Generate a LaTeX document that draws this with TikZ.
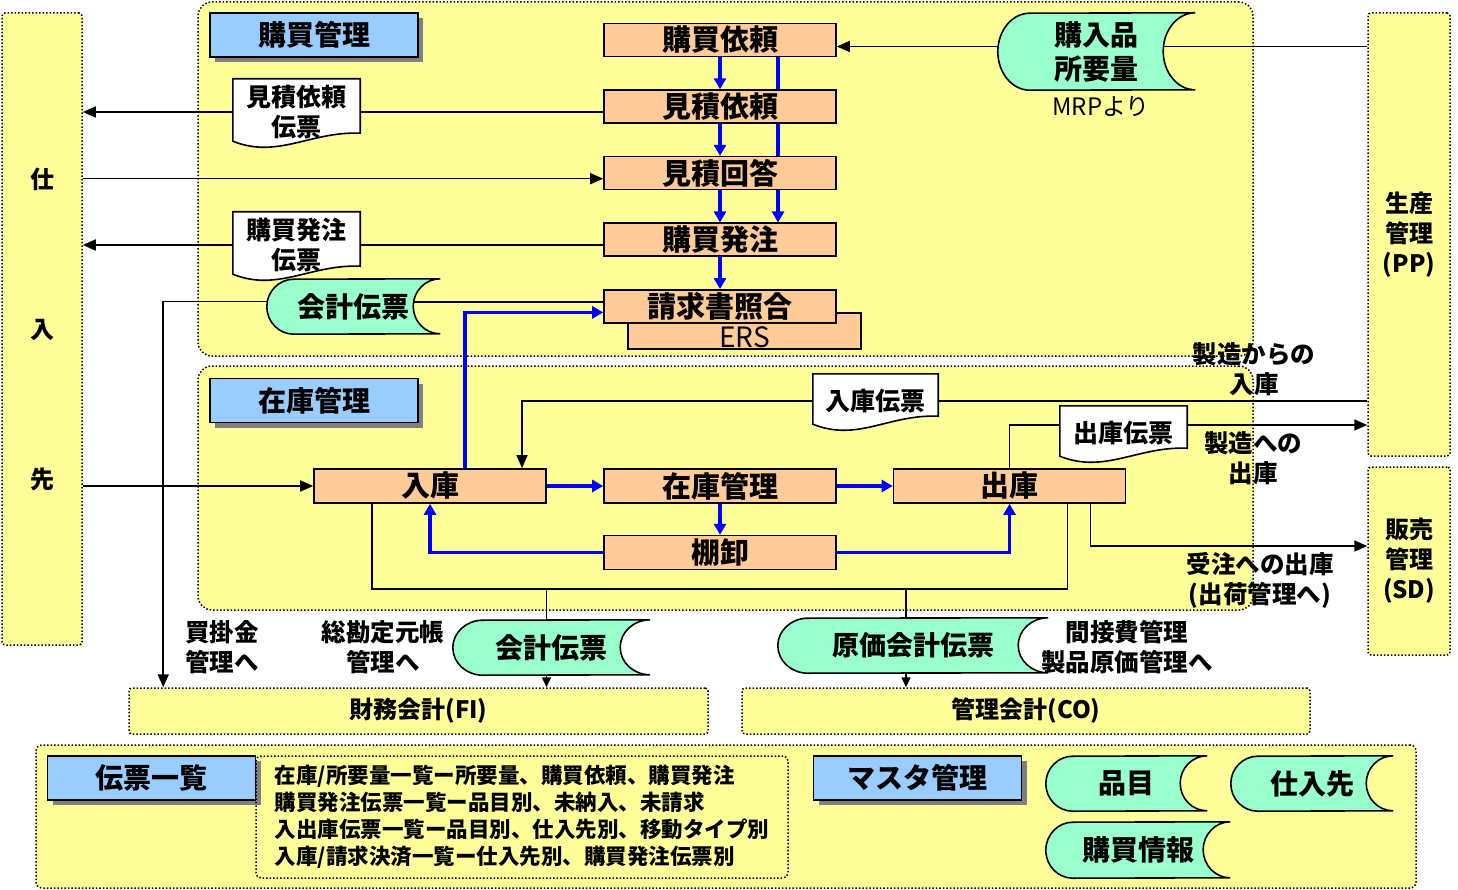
\documentclass[tikz,border=0pt]{standalone}
\usepackage{fontspec}
\setmainfont{Noto Sans CJK JP}
\usetikzlibrary{arrows.meta, positioning, shadows}

\definecolor{pale}{HTML}{FFFF99}
\definecolor{procfill}{HTML}{FFCC99}
\definecolor{headfill}{HTML}{99CCFF}
\definecolor{storefill}{HTML}{99FFCC}
\definecolor{flowblue}{HTML}{0000FF}

\pgfdeclarelayer{back}
\pgfdeclarelayer{shape}
\pgfsetlayers{back,shape,main}

% storage symbol round a named node: name, x radius, y radius
\newcommand{\storeshape}[3]{%
  \draw[storeline] (#1.north east) arc[start angle=90, end angle=270, x radius=#2, y radius=#3]
    -- ([xshift=#2]#1.south west) arc[start angle=270, end angle=90, x radius=#2, y radius=#3] -- cycle;}
% document symbol round a named node
\newcommand{\docshape}[1]{%
  \draw[docline] (#1.north west) -- (#1.north east) -- ([yshift=12pt]#1.south east)
    .. controls ([xshift=-50pt,yshift=14pt]#1.south east) and ([xshift=45pt,yshift=-14pt]#1.south west) .. ([yshift=4pt]#1.south west) -- cycle;}

\begin{document}
\begin{tikzpicture}[
  x=1pt, y=-1pt, font=\bfseries,
  region/.style={draw, dotted, line width=1.5pt, fill=pale, rounded corners=14pt, inner sep=0pt},
  side/.style={draw, dotted, line width=1.5pt, fill=pale, rounded corners=3pt, inner sep=0pt, align=center, font=\fontsize{24}{30}\selectfont\bfseries},
  proc/.style={draw, line width=1.6pt, fill=procfill, minimum width=232pt, minimum height=33pt, inner sep=0pt, font=\fontsize{29}{30}\selectfont\bfseries},
  head/.style={draw, line width=1.6pt, fill=headfill, minimum width=208pt, minimum height=44pt, inner sep=0pt,
    drop shadow={shadow xshift=5pt, shadow yshift=-5pt, fill=gray, opacity=1}, font=\fontsize{28}{30}\selectfont\bfseries},
  store/.style={minimum height=55pt, inner sep=0pt, align=center, font=\fontsize{28}{34}\selectfont\bfseries},
  storeline/.style={draw=black, line width=1.6pt, fill=storefill},
  doc/.style={minimum width=127pt, minimum height=66pt, inner sep=0pt, align=center, font=\fontsize{25}{30}\selectfont\bfseries},
  docline/.style={draw=black, line width=1.6pt, fill=white},
  note/.style={align=center, inner sep=0pt, font=\fontsize{24.5}{30}\selectfont\bfseries},
  conn/.style={line width=1.6pt},
  arr/.style={conn, -{Triangle[length=13pt, width=11pt]}},
  arrs/.style={conn, -{Triangle[length=10pt, width=9pt]}},
  flow/.style={line width=3.2pt, flowblue},
  flowarr/.style={flow, -{Triangle[length=11pt, width=12pt]}},
  node distance=32pt
]
\useasboundingbox (0,0) rectangle (1458,890);

% areas
\begin{pgfonlayer}{back}
\node[region, minimum width=1055pt, minimum height=354pt] (purch) at (725.5,179) {};
\node[region, minimum width=1055pt, minimum height=244pt] (stockarea) at (725.5,488) {};
\node[region, rounded corners=6pt, minimum width=1380pt, minimum height=143pt] (lists) at (726,816.5) {};
\end{pgfonlayer}

% neighbouring modules
\node[side, minimum width=80pt, minimum height=632pt] (sup) at (42,329) {仕\\[120pt]入\\[120pt]先};
\node[side, minimum width=82pt, minimum height=443pt] (pp) at (1409,234.5) {生産\\管理\\(PP)};
\node[side, minimum width=82pt, minimum height=188pt] (sd) at (1409,561) {販売\\管理\\(SD)};
\node[side, minimum width=579pt, minimum height=46pt] (fi) at (418.5,711) {財務会計(FI)};
\node[side, minimum width=568pt, minimum height=46pt] (co) at (1026,711) {管理会計(CO)};

% headings
\node[head] (purchhead) at (314,35) {購買管理};
\node[head] (stockhead) at (314,400.5) {在庫管理};
\node[head] (listhead) at (151.5,778) {伝票一覧};
\node[head] (masterhead) at (917.5,778) {マスタ管理};

% purchasing steps
\node[proc] (buyreq) at (720,40) {購買依頼};
\node[proc, below=of buyreq] (quotereq) {見積依頼};
\node[proc, below=of quotereq] (quoteans) {見積回答};
\node[proc, below=of quoteans] (po) {購買発注};
\node[proc, minimum width=233pt, minimum height=36pt, text height=32pt, text depth=0pt,
  font=\fontsize{28}{30}\selectfont\mdseries] (ers) at (744.5,331) {ERS};
\node[proc, below=of po] (invoice) {請求書照合};

% inventory steps
\node[proc, minimum height=34pt] (receipt) at (430,486) {入庫};
\node[proc, minimum height=34pt] (stock) at (720,486) {在庫管理};
\node[proc, minimum height=34pt] (issue) at (1009.5,486) {出庫};
\node[proc, minimum height=34pt, below=31pt of stock] (count) {棚卸};

% documents
\node[doc] (rfqdoc) at (296.5,112) {見積依頼\\伝票};
\node[doc] (podoc) at (296.5,245) {購買発注\\伝票};
\node[doc, minimum width=125pt, minimum height=54pt] (indoc) at (875.5,401) {入庫伝票};
\node[doc, minimum height=54pt] (outdoc) at (1123.5,433) {出庫伝票};

% stored data
\node[store, minimum width=197pt, minimum height=77pt] (mrp) at (1096.5,51.5) {購入品\\所要量};
\node[store, minimum width=173pt] (acc1) at (353.5,306.5) {会計伝票};
\node[store, minimum width=197pt] (acc2) at (551.5,647.5) {会計伝票};
\node[store, minimum width=270pt, font=\fontsize{27}{30}\selectfont\bfseries] (cost) at (913,645.5) {原価会計伝票};
\node[store, minimum width=161pt] (item) at (1126.5,783.5) {品目};
\node[store, minimum width=162pt] (vendor) at (1312,783.5) {仕入先};
\node[store, minimum width=184pt, minimum height=56pt] (pinfo) at (1138,850) {購買情報};

% list of reports
\node[draw, dotted, line width=1.5pt, rounded corners=5pt, minimum width=532pt, minimum height=122pt, inner sep=0pt,
  align=left, font=\fontsize{21.5}{27}\selectfont\bfseries] (listtext) at (522,817)
  {在庫/所要量一覧ー所要量、購買依頼、購買発注\\
   購買発注伝票一覧ー品目別、未納入、未請求\\
   入出庫伝票一覧ー品目別、仕入先別、移動タイプ別\\
   入庫/請求決済一覧ー仕入先別、購買発注伝票別};

% notes
\node[note, font=\fontsize{24}{30}\selectfont\mdseries] (mrpnote) at (1101,107) {MRPより};
\node[note] (frommfg) at (1254,369) {製造からの\\入庫};
\node[note] (tomfg) at (1253,458) {製造への\\出庫};
\node[note] (toorder) at (1260,580) {受注への出庫\\(出荷管理へ)};
\node[note] (apnote) at (222,647) {買掛金\\管理へ};
\node[note] (glnote) at (383,647) {総勘定元帳\\管理へ};
\node[note] (ohnote) at (1127,647) {間接費管理\\製品原価管理へ};

% symbol outlines
\begin{pgfonlayer}{shape}
\storeshape{mrp}{32pt}{38.5pt}
\storeshape{acc1}{27pt}{27.5pt}
\storeshape{acc2}{30pt}{27.5pt}
\storeshape{cost}{30pt}{27.5pt}
\storeshape{item}{27pt}{27.5pt}
\storeshape{vendor}{27pt}{27.5pt}
\storeshape{pinfo}{27pt}{28pt}
\docshape{rfqdoc}
\docshape{podoc}
\docshape{indoc}
\docshape{outdoc}
\draw[flowarr] ([xshift=58pt]buyreq.south) -- ([xshift=58pt]po.north);
\end{pgfonlayer}

% purchasing flow
\draw[arr] ([yshift=5pt]mrp.west) -- ([yshift=5pt]mrp.west -| buyreq.east);
\draw[conn] ([yshift=5pt]mrp.west -| pp.west) -- ([xshift=-32pt, yshift=5pt]mrp.east);
\draw[flowarr] (buyreq) -- (quotereq);
\draw[flowarr] (quotereq) -- (quoteans);
\draw[flowarr] (quoteans) -- (po);
\draw[flowarr] (po) -- (invoice);
\draw[conn] (rfqdoc -| quotereq.west) -- (rfqdoc);
\draw[arr] (rfqdoc) -- (rfqdoc -| sup.east);
\draw[arr] ([yshift=-5.5pt]sup.east |- quoteans) -- ([yshift=-5.5pt]quoteans.west);
\draw[conn] (podoc -| po.west) -- (podoc);
\draw[arr] (podoc) -- (podoc -| sup.east);
\draw[conn] ([yshift=4.5pt]invoice.west) -- ([xshift=-27pt, yshift=4.5pt]invoice.west -| acc1.east);
\draw[arr] ([yshift=5pt]acc1.west) -| ([xshift=35pt]fi.north west);
\draw[flowarr] ([xshift=35pt]receipt.north) |- ([yshift=-6pt]invoice.west);

% inventory flow
\draw[arr] (sup.east |- receipt) -- (receipt);
\draw[flowarr] (receipt) -- (stock);
\draw[flowarr] (stock) -- (issue);
\draw[flowarr] (stock) -- (count);
\draw[flowarr] (count) -| (receipt);
\draw[flowarr] (count) -| (issue);
\draw[conn] (indoc -| pp.west) -- (indoc);
\draw[arr] (indoc) -| ([xshift=92pt]receipt.north);
\draw[conn] (issue) |- ([yshift=8pt]outdoc.west);
\draw[arr] ([yshift=8pt]outdoc.east) -- ([yshift=8pt]outdoc.east -| pp.west);
\draw[arr] ([xshift=81pt]issue.south) |- ([yshift=15pt]sd.west);

% accounting
\coordinate (bus) at (720,589);
\draw[conn] ([xshift=-58pt]receipt.south) |- (bus) -| ([xshift=58pt]issue.south);
\draw[conn] ([xshift=-5pt]acc2.north |- bus) -- ([xshift=-5pt]acc2.north);
\draw[arrs] ([xshift=-5pt]acc2.south) -- ([xshift=-5pt]acc2.south |- fi.north);
\draw[conn] ([xshift=-7pt]cost.north |- bus) -- ([xshift=-7pt]cost.north);
\draw[arrs] ([xshift=-7pt]cost.south) -- ([xshift=-7pt]cost.south |- co.north);
\end{tikzpicture}
\end{document}
